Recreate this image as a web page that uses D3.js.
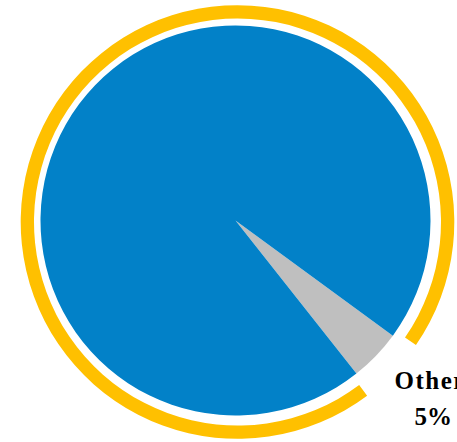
<!DOCTYPE html>
<html>
<head>
<meta charset="utf-8">
<script src="https://cdn.jsdelivr.net/npm/d3@7"></script>
<style>
  html, body { margin: 0; padding: 0; background: #ffffff; overflow: hidden; }
  svg { display: block; }
</style>
</head>
<body>
<svg id="chart" width="457" height="442"></svg>
<script>
// ---- data ----
const categories = ["Other", "Main"];
const values = [4.3, 95.7];
const labelNames = ["Other"];
const labelPercents = ["5%"];

// ---- layout ----
const W = 457, H = 442;
const cx = 235.5, cy = 220.5, r = 195;
const ringCx = 237.5, ringCy = 222, ringInner = 203.5, ringOuter = 216.8;
const startDeg = 126.2;
const gapPadDeg = 1.6;

const colors = { Other: "#BFBFBF", Main: "#0281C8" };
const ringColor = "#FFC000";

const svg = d3.select("#chart");

const toRad = d => d * Math.PI / 180;
const pie = d3.pie().sort(null).value(d => d.value)
  .startAngle(toRad(startDeg)).endAngle(toRad(startDeg) + 2 * Math.PI);
const data = categories.map((c, i) => ({ cat: c, value: values[i] }));
const arcs = pie(data);

const arc = d3.arc().innerRadius(0).outerRadius(r);

svg.append("g").attr("transform", `translate(${cx},${cy})`)
  .selectAll("path").data(arcs).join("path")
  .attr("d", arc)
  .attr("fill", d => colors[d.data.cat]);

// outer ring with a gap around the "Other" slice
const other = arcs[0];
const pad = toRad(gapPadDeg);
const ringArc = d3.arc().innerRadius(ringInner).outerRadius(ringOuter);
svg.append("path")
  .attr("transform", `translate(${ringCx},${ringCy})`)
  .attr("d", ringArc({ startAngle: other.endAngle + pad, endAngle: other.startAngle + 2 * Math.PI - pad }))
  .attr("fill", ringColor);

// label
const lab = svg.append("g")
  .attr("font-family", "'Liberation Serif', 'Times New Roman', serif")
  .attr("font-weight", "bold")
  .attr("font-size", 25)
  .attr("fill", "#000");
lab.append("text").attr("x", 394.5).attr("y", 388.5)
  .attr("text-anchor", "start").attr("letter-spacing", 1.5)
  .text(labelNames[0]);
lab.append("text").attr("x", 433.3).attr("y", 425)
  .attr("text-anchor", "middle")
  .text(labelPercents[0]);
</script>
</body>
</html>
